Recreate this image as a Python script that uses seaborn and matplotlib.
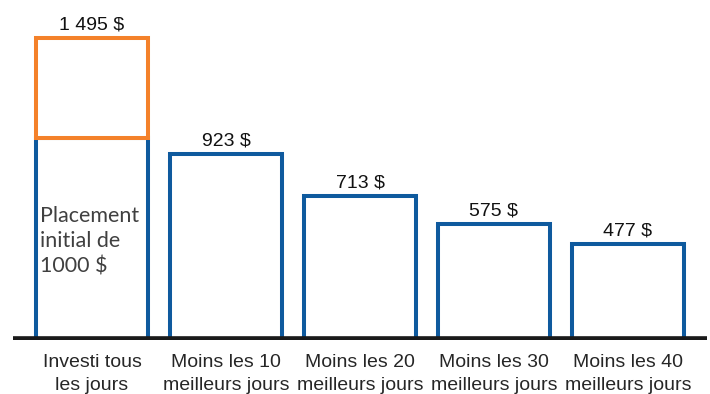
import matplotlib.pyplot as plt
import seaborn as sns

# Data
categories = ["Investi tous\nles jours", "Moins les 10\nmeilleurs jours",
              "Moins les 20\nmeilleurs jours", "Moins les 30\nmeilleurs jours",
              "Moins les 40\nmeilleurs jours"]
final_values = [1495, 923, 713, 575, 477]
initial_investment = 1000
value_labels = ["1 495 $", "923 $", "713 $", "575 $", "477 $"]

blue = "#0F5A9E"
orange = "#F4812A"

# Blue bars: first one only up to the initial amount, orange gain drawn on top
blue_heights = [min(v, initial_investment) if i == 0 else v
                for i, v in enumerate(final_values)]

sns.set_style("white")
plt.rcParams['font.family'] = ['Liberation Sans', 'DejaVu Sans']

fig = plt.figure(figsize=(7.1, 3.94), dpi=100)
ax = fig.add_axes([13 / 710, 54 / 394, 694 / 710, 0.846])

sns.barplot(x=categories, y=blue_heights, color="white", edgecolor=blue,
            linewidth=2.9, width=0.83, ax=ax, zorder=2)

# Gain on top of the initial investment for the first bar
ax.bar(0, final_values[0] - initial_investment, bottom=initial_investment,
       width=0.83, color="white", edgecolor=orange, linewidth=2.9, zorder=3)

# Value labels above bars
for i, (v, lab) in enumerate(zip(final_values, value_labels)):
    ax.text(i, v + 22, lab, ha="center", va="bottom", fontsize=14, color="#111111")

# Text inside the first bar
ax.text(-0.385, 490, "Placement\ninitial de\n1000 $", ha="left", va="center",
        fontsize=15.5, color="#404040", family=["Lato", "DejaVu Sans"],
        linespacing=1.32)

# Thick baseline
ax.axhline(0, color="#1a1a1a", linewidth=5.5, zorder=4)

ax.set_xlim(-0.59, 4.59)
ax.set_ylim(0, 1650)
ax.set_yticks([])
ax.tick_params(axis="x", length=0, pad=10, labelsize=14)
for lab in ax.get_xticklabels():
    lab.set_linespacing(1.5)
for side in ["top", "right", "left", "bottom"]:
    ax.spines[side].set_visible(False)

fig.savefig("out.png", dpi=100)
